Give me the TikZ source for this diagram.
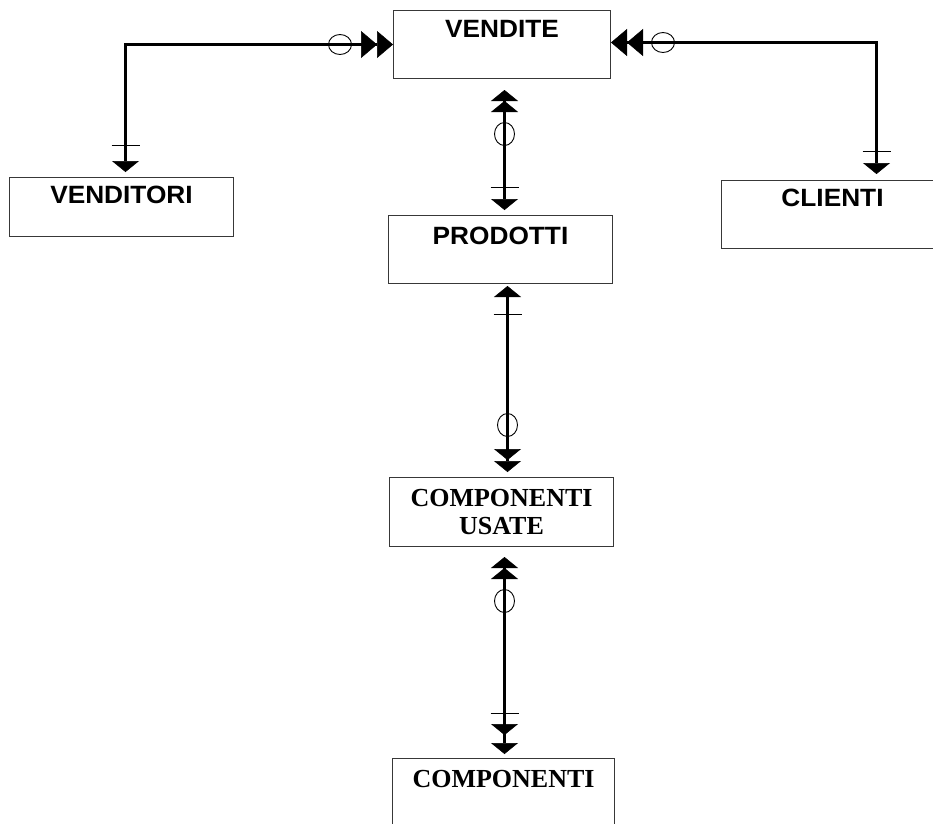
\documentclass[tikz,border=0pt]{standalone}
\usepackage{fontspec}
\setmainfont{Liberation Serif}
\newfontfamily\labelsans[FakeStretch=1.05]{Liberation Sans}
\usetikzlibrary{arrows.meta,decorations.markings}

\tikzset{
  x=1pt, y=1pt,
  % entity boxes
  entity/.style={draw=black!78, line width=1pt, rectangle, inner sep=0pt,
    anchor=north west, font=\labelsans\bfseries\fontsize{25}{28}\selectfont},
  entityserif/.style={entity, font=\bfseries\fontsize{26}{28}\selectfont},
  % relationship lines
  conn/.style={line width=2.5pt, black},
  fine/.style={line width=0.9pt, black, arrows=-},
  % arrow tips
  HTip/.tip={Triangle[width=27pt,length=16pt,line width=0.5pt]},
  VTip/.tip={Triangle[width=27pt,length=11pt,line width=0.5pt]},
  VTipGap/.tip={Triangle[width=27pt,length=11pt,line width=0.5pt,sep=8pt]},
  VTipNear/.tip={Triangle[width=27pt,length=11pt,line width=0.5pt,sep=1pt]},
  % optional circle and crossbar marks along a line
  ends/.style 2 args={postaction={decorate}, decoration={markings,
    mark=at position #1 with {\draw[fine] (0,0) ellipse [x radius=11.5pt, y radius=10pt];},
    mark=at position #2 with {\draw[fine] (0,-14pt) -- (0,14pt);}}}
}

\begin{document}
\begin{tikzpicture}
\useasboundingbox (0,0) rectangle (933,-823);
\clip (0,0) rectangle (933,-823);

% entities
\node[entity, minimum width=217pt, text height=27pt, text depth=41pt] (vendite) at (393,-10) {VENDITE};
\node[entity, minimum width=224pt, text height=26pt, text depth=33pt] (venditori) at (9,-177) {VENDITORI};
\node[entity, minimum width=222pt, text height=26pt, text depth=42pt] (clienti) at (721,-180) {CLIENTI};
\node[entity, minimum width=224pt, text height=29pt, text depth=39pt] (prodotti) at (388,-215) {PRODOTTI};
\node[entityserif, minimum width=224pt, minimum height=69pt, align=center] (compusate) at (389,-477) {COMPONENTI\\USATE};
\node[entityserif, minimum width=222pt, text height=29pt, text depth=60pt] (componenti) at (392,-758) {COMPONENTI};

% relationships
\draw[conn, {HTip[]HTip[]}-{VTip[]}, ends={53pt}{-27pt}]
  (vendite.west) -| ([xshift=4pt,yshift=5pt]venditori.north);
\draw[conn, {HTip[]HTip[]}-{VTip[]}, ends={52pt}{-23pt}]
  ([yshift=2pt]vendite.east) -| ([xshift=44pt,yshift=6pt]clienti.north);
\draw[conn, {VTipGap[]VTip[]}-{VTip[]}, ends={52pt}{-23pt}]
  ([xshift=2.5pt,yshift=-3pt]vendite.south) -- ([xshift=4pt,yshift=5pt]prodotti.north);
\draw[conn, {VTip[]}-{VTipNear[]VTip[]}, ends={-47pt}{28pt}]
  ([xshift=7pt,yshift=-2pt]prodotti.south) -- ([xshift=6pt,yshift=5pt]compusate.north);
\draw[conn, {VTipGap[]VTip[]}-{VTipGap[]VTip[]}, ends={52pt}{-41pt}]
  ([xshift=3pt,yshift=-2pt]compusate.south) -- ([xshift=1pt,yshift=4pt]componenti.north);
\end{tikzpicture}
\end{document}
